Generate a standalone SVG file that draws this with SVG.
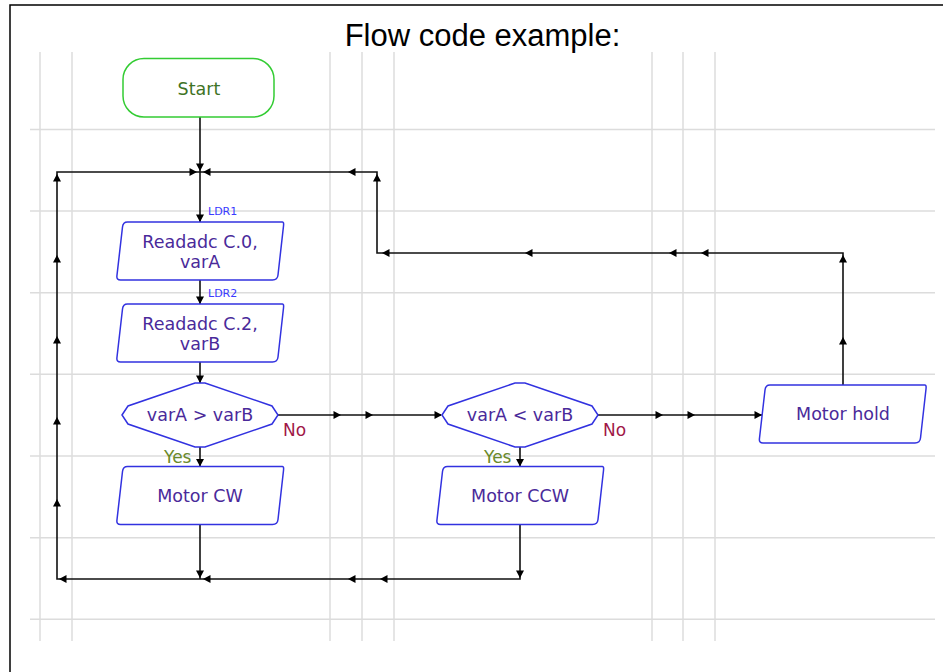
<svg xmlns="http://www.w3.org/2000/svg" width="946" height="672" viewBox="0 0 946 672">
<style>
.grid line{stroke:#dcdcdc;stroke-width:1.5}
.conn path{fill:none;stroke:#111;stroke-width:1.6}
.ah{fill:#000}
.io,.dec{fill:#fff;stroke:#3232e0;stroke-width:1.5}
.term{fill:#fff;stroke:#33cc33;stroke-width:1.5}
.nt{font-family:"DejaVu Sans",Verdana,sans-serif;font-size:17.5px;fill:#4a2a9a;text-anchor:middle}
.st{fill:#3f7325}
.lbl{font-family:"DejaVu Sans",Verdana,sans-serif;font-size:11px;fill:#3a3aff}
.no{font-family:"DejaVu Sans",Verdana,sans-serif;font-size:17px;fill:#a01848}
.yes{font-family:"DejaVu Sans",Verdana,sans-serif;font-size:17px;fill:#6a8a2a}
</style>
<defs>
<path id="io" d="M11,0 H166 Q167.5,0 167,4 L161.5,53 Q161,58 156,58 H4 Q0,58 0.4,54 L6,5 Q6.5,0 11,0 Z"/>
<polygon id="dia" points="-78,0 -72,-9 -5,-32 5,-32 72,-9 78,0 72,9 5,32 -5,32 -72,9"/>
<path id="ar" d="M0,0 L-7.5,-4 L-7.5,4 Z"/>
</defs>
<rect width="946" height="672" fill="#fff"/>
<path d="M943,5 H10 V672" fill="none" stroke="#000" stroke-width="1.5"/>
<text x="482.5" y="46" font-family="Liberation Sans,Arial,sans-serif" font-size="31" text-anchor="middle" fill="#000">Flow code example:</text>
<g class="grid">
<line x1="40" y1="52" x2="40" y2="641"/>
<line x1="72" y1="52" x2="72" y2="641"/>
<line x1="330" y1="52" x2="330" y2="641"/>
<line x1="362" y1="52" x2="362" y2="641"/>
<line x1="394" y1="52" x2="394" y2="641"/>
<line x1="652" y1="52" x2="652" y2="641"/>
<line x1="683" y1="52" x2="683" y2="641"/>
<line x1="715" y1="52" x2="715" y2="641"/>
<line x1="30" y1="129.5" x2="935" y2="129.5"/>
<line x1="30" y1="211" x2="935" y2="211"/>
<line x1="30" y1="292.7" x2="935" y2="292.7"/>
<line x1="30" y1="374.3" x2="935" y2="374.3"/>
<line x1="30" y1="456" x2="935" y2="456"/>
<line x1="30" y1="537.7" x2="935" y2="537.7"/>
<line x1="30" y1="619.3" x2="935" y2="619.3"/>
</g>
<g class="conn" id="connectors">
<path d="M200,117 V172"/>
<path d="M200,172 V222"/>
<path d="M200,280 V304"/>
<path d="M200,362 V383"/>
<path d="M200,447 V466.5"/>
<path d="M200,524.5 V579"/>
<path d="M278,415 H441"/>
<path d="M520,447 V466.5"/>
<path d="M520,524.5 V579 H57 V172 H200"/>
<path d="M598,415 H762"/>
<path d="M843,385 V253 H377 V172 H200"/>
<g class="ah">
<use href="#ar" transform="translate(200,171) rotate(90)"/>
<use href="#ar" transform="translate(200,222) rotate(90)"/>
<use href="#ar" transform="translate(200,304) rotate(90)"/>
<use href="#ar" transform="translate(200,383) rotate(90)"/>
<use href="#ar" transform="translate(200,466.5) rotate(90)"/>
<use href="#ar" transform="translate(200,578) rotate(90)"/>
<use href="#ar" transform="translate(520,466.5) rotate(90)"/>
<use href="#ar" transform="translate(520,578) rotate(90)"/>
<use href="#ar" transform="translate(197,172)"/>
<use href="#ar" transform="translate(341,415)"/>
<use href="#ar" transform="translate(373,415)"/>
<use href="#ar" transform="translate(442,415)"/>
<use href="#ar" transform="translate(663,415)"/>
<use href="#ar" transform="translate(695,415)"/>
<use href="#ar" transform="translate(762,415)"/>
<use href="#ar" transform="translate(203,172) rotate(180)"/>
<use href="#ar" transform="translate(348,172) rotate(180)"/>
<use href="#ar" transform="translate(382,253) rotate(180)"/>
<use href="#ar" transform="translate(525,253) rotate(180)"/>
<use href="#ar" transform="translate(669,253) rotate(180)"/>
<use href="#ar" transform="translate(701,253) rotate(180)"/>
<use href="#ar" transform="translate(59,579) rotate(180)"/>
<use href="#ar" transform="translate(203,579) rotate(180)"/>
<use href="#ar" transform="translate(348,579) rotate(180)"/>
<use href="#ar" transform="translate(380,579) rotate(180)"/>
<use href="#ar" transform="translate(57,174) rotate(-90)"/>
<use href="#ar" transform="translate(57,255) rotate(-90)"/>
<use href="#ar" transform="translate(57,336) rotate(-90)"/>
<use href="#ar" transform="translate(57,417) rotate(-90)"/>
<use href="#ar" transform="translate(57,499) rotate(-90)"/>
<use href="#ar" transform="translate(377,174) rotate(-90)"/>
<use href="#ar" transform="translate(843,255) rotate(-90)"/>
<use href="#ar" transform="translate(843,337) rotate(-90)"/>
</g>
<text class="lbl" x="208" y="215">LDR1</text>
<text class="lbl" x="208" y="297">LDR2</text>
<text class="no" x="283" y="436">No</text>
<text class="no" x="603" y="436">No</text>
<text class="yes" x="164" y="463">Yes</text>
<text class="yes" x="484" y="463">Yes</text>
</g>
<g id="start">
<rect class="term" x="123" y="58.5" width="151" height="58.5" rx="21"/>
<text class="nt st" x="199" y="95">Start</text>
</g>
<g id="readadc0">
<use href="#io" class="io" transform="translate(116.5,222)"/>
<text class="nt" x="200" y="248">Readadc C.0,</text>
<text class="nt" x="200" y="268">varA</text>
</g>
<g id="readadc2">
<use href="#io" class="io" transform="translate(116.5,304)"/>
<text class="nt" x="200" y="330">Readadc C.2,</text>
<text class="nt" x="200" y="350">varB</text>
</g>
<g id="dec1">
<use href="#dia" class="dec" transform="translate(200,415)"/>
<text class="nt" x="200" y="421">varA &gt; varB</text>
</g>
<g id="motorcw">
<use href="#io" class="io" transform="translate(116.5,466.5)"/>
<text class="nt" x="200" y="502">Motor CW</text>
</g>
<g id="dec2">
<use href="#dia" class="dec" transform="translate(520,415)"/>
<text class="nt" x="520" y="421">varA &lt; varB</text>
</g>
<g id="motorccw">
<use href="#io" class="io" transform="translate(436.5,466.5)"/>
<text class="nt" x="520" y="502">Motor CCW</text>
</g>
<g id="motorhold">
<use href="#io" class="io" transform="translate(759,385)"/>
<text class="nt" x="843" y="420">Motor hold</text>
</g>
</svg>
